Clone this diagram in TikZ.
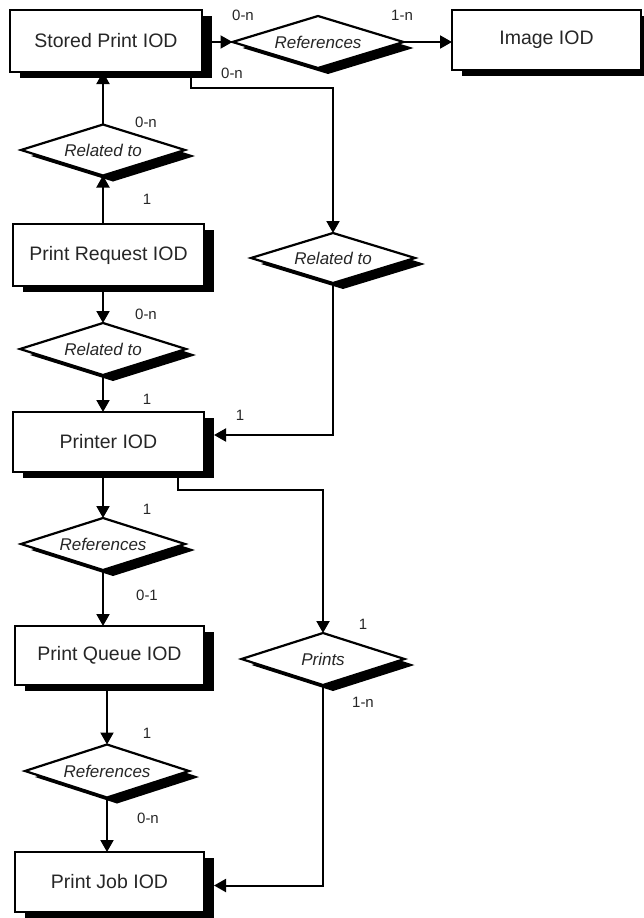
\documentclass[tikz,border=0pt]{standalone}
\usepackage{fontspec}
\setmainfont{Liberation Sans}
\usetikzlibrary{shapes.geometric,arrows.meta,shadows}

\tikzset{
  shade/.style={drop shadow={shadow xshift=10pt,shadow yshift=-6pt,fill=black,opacity=1}},
  entity/.style={draw=black,line width=2.4pt,fill=white,shade,inner sep=0pt,outer sep=0pt,
    text=black!85,font=\fontsize{19.5}{21}\selectfont},
  relation/.style={diamond,draw=black,line width=2.2pt,fill=white,shade,aspect=3.2,inner sep=0pt,
    outer sep=0pt,text=black!85,font=\itshape\fontsize{17}{19}\selectfont},
  card/.style={inner sep=0pt,text=black!85,font=\fontsize{15}{16}\selectfont},
  conn/.style={line width=2pt,-{Triangle[length=12pt,width=13pt]}},
  wire/.style={line width=2pt}
}

\begin{document}
\begin{tikzpicture}[x=1pt,y=-1pt]
\useasboundingbox (0,0) rectangle (644,918);

% entity boxes
\node[entity,minimum width=192pt,minimum height=62pt] (sp)   at (106,41)    {Stored Print IOD};
\node[entity,minimum width=189pt,minimum height=60pt] (img)  at (546.5,40)  {Image IOD};
\node[entity,minimum width=191pt,minimum height=62pt] (preq) at (108.5,255) {Print Request IOD};
\node[entity,minimum width=191pt,minimum height=60pt] (prn)  at (108.5,442) {Printer IOD};
\node[entity,minimum width=189pt,minimum height=59pt] (pq)   at (109.5,655.5) {Print Queue IOD};
\node[entity,minimum width=189pt,minimum height=60pt] (pj)   at (109.5,882) {Print Job IOD};

% relationship diamonds
\node[relation,minimum width=171pt,minimum height=52pt] (refimg) at (318,42)  {References};
\node[relation,minimum width=164pt,minimum height=51pt] (relA)   at (103,150) {Related to};
\node[relation,minimum width=164pt,minimum height=50pt] (relR)   at (333,258) {Related to};
\node[relation,minimum width=166pt,minimum height=52pt] (relB)   at (103,349) {Related to};
\node[relation,minimum width=164pt,minimum height=52pt] (refq)   at (103,544) {References};
\node[relation,minimum width=163pt,minimum height=52pt] (prints) at (323,659) {Prints};
\node[relation,minimum width=164pt,minimum height=53pt] (refj)   at (107,771) {References};

% connectors
\draw[conn] (sp.east |- refimg.west) -- (refimg.west);
\draw[conn] (refimg.east) -- (refimg.east -| img.west);
\draw[conn] ([xshift=85pt]sp.south) -- ++(0,16) -| (relR.north);
\draw[conn] (relA.north) -- (relA.north |- sp.south);
\draw[conn] (relA.south |- preq.north) -- (relA.south);
\draw[conn] (relB.north |- preq.south) -- (relB.north);
\draw[conn] (relB.south) -- (relB.south |- prn.north);
\draw[conn] (relR.south) |- ([xshift=10pt,yshift=7pt]prn.east);
\draw[conn] (refq.north |- prn.south) -- (refq.north);
\draw[conn] ([xshift=69.5pt]prn.south) -- ++(0,18) -| (prints.north);
\draw[conn] (refq.south) -- (refq.south |- pq.north);
\draw[conn] (refj.north |- pq.south) -- (refj.north);
\draw[conn] (refj.south) -- (refj.south |- pj.north);
\draw[conn] (prints.south) |- ([xshift=10pt,yshift=-3.5pt]pj.east);

% cardinalities
\node[card] (c1)  at (243,15)  {0-n};
\node[card] (c2)  at (402,15)  {1-n};
\node[card] (c3)  at (232,73)  {0-n};
\node[card] (c4)  at (146,122) {0-n};
\node[card] (c5)  at (147,199) {1};
\node[card] (c6)  at (146,314) {0-n};
\node[card] (c7)  at (147,399) {1};
\node[card] (c8)  at (240,415) {1};
\node[card] (c9)  at (147,509) {1};
\node[card] (c10) at (147,595) {0-1};
\node[card] (c11) at (363,624) {1};
\node[card] (c12) at (363,702) {1-n};
\node[card] (c13) at (147,733) {1};
\node[card] (c14) at (148,818) {0-n};
\end{tikzpicture}
\end{document}
